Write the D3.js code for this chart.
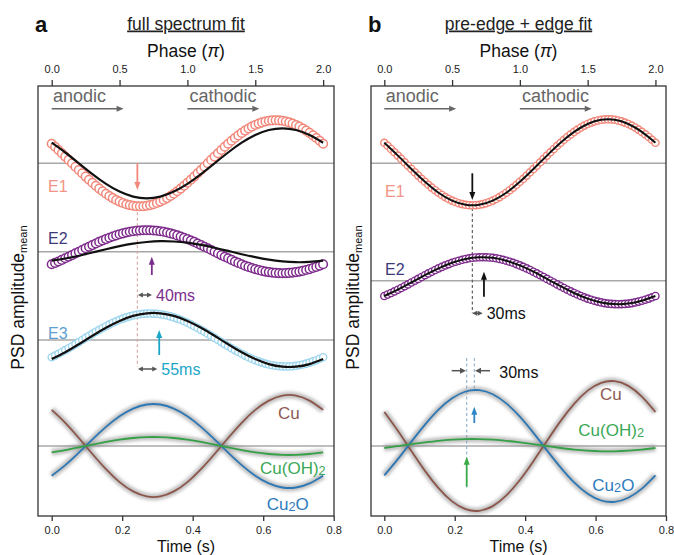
<!DOCTYPE html>
<html><head><meta charset="utf-8">
<script src="https://cdn.jsdelivr.net/npm/d3@7/dist/d3.min.js"></script>
<style>
body{margin:0;background:#fff;}
svg text{font-family:"Liberation Sans",Arial,Helvetica,sans-serif;}
</style></head>
<body>
<svg id="chart" width="674" height="555"></svg>
<script>
// ---------------- data ----------------
const phaseTickValues = [0, 0.5, 1.0, 1.5, 2.0];
const timeTickValues = [0, 0.2, 0.4, 0.6, 0.8];
const periodSeconds = 0.77;                       // 2π phase = one period
const phaseMeasured = d3.range(81).map(i => i * 0.025); // phase bins (π units)
const phaseModel = d3.range(21).map(i => i * 0.1);

// panel a (full spectrum fit) – measured PSD amplitudes (circles)
const e1DataA = [19.5,16.5,13.3,10.0,6.7,3.4,0,-3.4,-6.7,-10.0,-13.3,-16.5,-19.5,-22.5,-25.3,-27.9,-30.4,-32.7,-34.8,-36.7,-38.3,-39.7,-40.9,-41.8,-42.5,-42.9,-43.0,-42.9,-42.5,-41.8,-40.9,-39.7,-38.3,-36.7,-34.8,-32.7,-30.4,-27.9,-25.3,-22.5,-19.5,-16.5,-13.3,-10.0,-6.7,-3.4,0,3.4,6.7,10.0,13.3,16.5,19.5,22.5,25.3,27.9,30.4,32.7,34.8,36.7,38.3,39.7,40.9,41.8,42.5,42.9,43.0,42.9,42.5,41.8,40.9,39.7,38.3,36.7,34.8,32.7,30.4,27.9,25.3,22.5,19.5];
const e2DataA = [-12.6,-11.2,-9.8,-8.2,-6.6,-5.0,-3.4,-1.7,0,1.7,3.4,5.0,6.6,8.2,9.8,11.2,12.6,14.0,15.2,16.3,17.4,18.3,19.2,19.9,20.4,20.9,21.2,21.4,21.5,21.4,21.2,20.9,20.4,19.9,19.2,18.3,17.4,16.3,15.2,14.0,12.6,11.2,9.8,8.2,6.6,5.0,3.4,1.7,0,-1.7,-3.4,-5.0,-6.6,-8.2,-9.8,-11.2,-12.6,-14.0,-15.2,-16.3,-17.4,-18.3,-19.2,-19.9,-20.4,-20.9,-21.2,-21.4,-21.5,-21.4,-21.2,-20.9,-20.4,-19.9,-19.2,-18.3,-17.4,-16.3,-15.2,-14.0,-12.6];
const e3DataA = [-17.2,-15.6,-13.8,-12.0,-10.1,-8.2,-6.2,-4.1,-2.1,0,2.1,4.1,6.2,8.2,10.1,12.0,13.8,15.6,17.2,18.7,20.2,21.4,22.6,23.6,24.5,25.2,25.8,26.2,26.4,26.5,26.4,26.2,25.8,25.2,24.5,23.6,22.6,21.4,20.2,18.7,17.2,15.6,13.8,12.0,10.1,8.2,6.2,4.1,2.1,0,-2.1,-4.1,-6.2,-8.2,-10.1,-12.0,-13.8,-15.6,-17.2,-18.7,-20.2,-21.4,-22.6,-23.6,-24.5,-25.2,-25.8,-26.2,-26.4,-26.5,-26.4,-26.2,-25.8,-25.2,-24.5,-23.6,-22.6,-21.4,-20.2,-18.7,-17.2];
// panel a – fits (black lines)
const e1FitA = [20.6,10.8,0,-10.8,-20.6,-28.3,-33.3,-35.0,-33.3,-28.3,-20.6,-10.8,0,10.8,20.6,28.3,33.3,35.0,33.3,28.3,20.6];
const e2FitA = [-9.0,-6.8,-4.0,-0.8,2.5,5.5,8.0,9.7,10.5,10.2,9.0,6.8,4.0,0.8,-2.5,-5.5,-8.0,-9.7,-10.5,-10.2,-9.0];
const e3FitA = [-19.1,-12.3,-4.2,4.2,12.3,19.1,24.1,26.7,26.7,24.1,19.1,12.3,4.2,-4.2,-12.3,-19.1,-24.1,-26.7,-26.7,-24.1,-19.1];
// panel a – components
const cuA    = [36.1,23.2,8.0,-8.0,-23.2,-36.1,-45.4,-50.4,-50.4,-45.4,-36.1,-23.2,-8.0,8.0,23.2,36.1,45.4,50.4,50.4,45.4,36.1];
const cu2oA  = [-29.7,-19.1,-6.6,6.6,19.1,29.7,37.4,41.5,41.5,37.4,29.7,19.1,6.6,-6.6,-19.1,-29.7,-37.4,-41.5,-41.5,-37.4,-29.7];
const cuoh2A = [-6.4,-4.1,-1.4,1.4,4.1,6.4,8.0,8.9,8.9,8.0,6.4,4.1,1.4,-1.4,-4.1,-6.4,-8.0,-8.9,-8.9,-8.0,-6.4];

// panel b (pre-edge + edge fit)
const e1DataB = [20.5,17.5,14.3,11.0,7.7,4.4,1.0,-2.4,-5.7,-9.0,-12.3,-15.5,-18.5,-21.5,-24.3,-26.9,-29.4,-31.7,-33.8,-35.7,-37.3,-38.7,-39.9,-40.8,-41.5,-41.9,-42.0,-41.9,-41.5,-40.8,-39.9,-38.7,-37.3,-35.7,-33.8,-31.7,-29.4,-26.9,-24.3,-21.5,-18.5,-15.5,-12.3,-9.0,-5.7,-2.4,1.0,4.4,7.7,11.0,14.3,17.5,20.5,23.5,26.3,28.9,31.4,33.7,35.8,37.7,39.3,40.7,41.9,42.8,43.5,43.9,44.0,43.9,43.5,42.8,41.9,40.7,39.3,37.7,35.8,33.7,31.4,28.9,26.3,23.5,20.5];
const e2DataB = [-15.3,-13.8,-12.3,-10.7,-9.0,-7.3,-5.5,-3.7,-1.8,0,1.8,3.7,5.5,7.3,9.0,10.7,12.3,13.8,15.3,16.6,17.9,19.0,20.0,20.9,21.7,22.4,22.9,23.2,23.4,23.5,23.4,23.2,22.9,22.4,21.7,20.9,20.0,19.0,17.9,16.6,15.3,13.8,12.3,10.7,9.0,7.3,5.5,3.7,1.8,0,-1.8,-3.7,-5.5,-7.3,-9.0,-10.7,-12.3,-13.8,-15.3,-16.6,-17.9,-19.0,-20.0,-20.9,-21.7,-22.4,-22.9,-23.2,-23.4,-23.5,-23.4,-23.2,-22.9,-22.4,-21.7,-20.9,-20.0,-19.0,-17.9,-16.6,-15.3];
const e1FitB = [20.5,7.7,-5.7,-18.5,-29.4,-37.3,-41.5,-41.5,-37.3,-29.4,-18.5,-5.7,7.7,20.5,31.4,39.3,43.5,43.5,39.3,31.4,20.5];
const e2FitB = [-15.3,-9.0,-1.8,5.5,12.3,17.9,21.7,23.4,22.9,20.0,15.3,9.0,1.8,-5.5,-12.3,-17.9,-21.7,-23.4,-22.9,-20.0,-15.3];
const cuB    = [34.0,15.2,-5.1,-24.9,-42.2,-55.4,-63.2,-64.8,-60.1,-49.4,-34.0,-15.2,5.1,24.9,42.2,55.4,63.2,64.8,60.1,49.4,34.0];
const cu2oB  = [-29.3,-13.1,4.4,21.4,36.4,47.7,54.5,55.8,51.7,42.6,29.3,13.1,-4.4,-21.4,-36.4,-47.7,-54.5,-55.8,-51.7,-42.6,-29.3];
const cuoh2B = [-2.0,-0.2,1.8,3.6,5.2,6.3,6.9,6.9,6.3,5.2,3.6,1.8,-0.2,-2.0,-3.6,-4.7,-5.3,-5.3,-4.7,-3.6,-2.0];

// stacking baselines (a.u.)
const baselinesA = [352.7, 264.3, 176.0, 70.0];
const baselinesB = [352.7, 235.3, 70.0];
// phase-shift annotations (s)
const shiftsA = [0.04, 0.055];
const shiftsB = [0.03, 0.03];

// ---------------- drawing ----------------
const svg = d3.select('#chart');
const defs = svg.append('defs');
defs.append('filter').attr('id','blur').attr('x','-5%').attr('y','-30%').attr('width','110%').attr('height','160%')
  .append('feGaussianBlur').attr('stdDeviation', 1.5);

const C = {
  salmon:'#f2877a', e1lab:'#f29485', purple:'#7d2b8b', e2lab:'#3e3a7a',
  cyan:'#9dd6ee', e3lab:'#5d9fd3', teal:'#1aa6c8', purpleArrow:'#7b2e8c',
  cu:'#8c564b', cu2o:'#2c77b4', cuoh2:'#36a047',
  cuLab:'#8c5a52', cu2oLab:'#2f7bbd', cuoh2Lab:'#3aa856',
  base:'#a8a8a8', frame:'#333', gray:'#666', dark:'#555'
};

function arrow(g, x1, y1, x2, y2, color, sw, len, wid, both){
  const a = Math.atan2(y2-y1, x2-x1), ca = Math.cos(a), sa = Math.sin(a);
  const head = (tx, ty, dir) => {
    const bx = tx - dir*len*ca, by = ty - dir*len*sa;
    const px = -sa*wid/2, py = ca*wid/2;
    g.append('path').attr('d', `M${tx},${ty}L${bx+px},${by+py}L${bx-px},${by-py}Z`).attr('fill', color);
  };
  const sx = both ? x1 + len*0.6*ca : x1, sy = both ? y1 + len*0.6*sa : y1;
  g.append('line').attr('x1', sx).attr('y1', sy)
    .attr('x2', x2 - len*0.6*ca).attr('y2', y2 - len*0.6*sa)
    .attr('stroke', color).attr('stroke-width', sw);
  head(x2, y2, 1);
  if (both) head(x1, y1, -1);
}

function label(g, x, y, parts, size, color, anchor, baseline){
  const t = g.append('text').attr('x', x).attr('y', y).attr('font-size', size).attr('fill', color)
    .attr('text-anchor', anchor || 'start');
  if (baseline) t.attr('dominant-baseline', baseline);
  parts.forEach(p => {
    const s = t.append('tspan').text(p.t);
    if (p.sub) s.attr('font-size', size*0.75).attr('dy', p.dy);
    else if (p.dy) s.attr('dy', p.dy);
    if (p.it) s.attr('font-style', 'italic');
  });
  return t;
}

function drawPanel(cfg){
  const g = svg.append('g');
  const x = d3.scaleLinear().domain([0, 0.8]).range([cfg.x0, cfg.x8]);
  const xp = d3.scaleLinear().domain([0, 2]).range([x(0), x(periodSeconds)]);
  const y = d3.scaleLinear().domain([0, 430]).range([516, 86]);
  const line = (vals, base) => d3.line().x((v,i) => xp(phaseModel[i])).y(v => y(base + v)).curve(d3.curveNatural)(vals);

  // baselines
  g.selectAll('line.base').data(cfg.baselines).join('line').attr('class','base')
    .attr('x1', cfg.left).attr('x2', cfg.right).attr('y1', d => y(d)).attr('y2', d => y(d))
    .attr('stroke', C.base).attr('stroke-width', 1.6);

  // dashed guides
  cfg.dashes.forEach(d => g.append('line').attr('x1', x(d.t)).attr('x2', x(d.t)).attr('y1', y(d.v1)).attr('y2', y(d.v2))
    .attr('stroke', d.color).attr('stroke-width', 1.1).attr('stroke-dasharray', '3,2.5'));

  // components with soft grey halo
  cfg.components.forEach(c => g.append('path').attr('d', line(c.values, c.base)).attr('fill','none')
    .attr('stroke', '#8a8a8a').attr('stroke-width', 7).attr('stroke-opacity', 0.5).attr('filter','url(#blur)'));
  cfg.components.forEach(c => g.append('path').attr('d', line(c.values, c.base)).attr('fill','none')
    .attr('stroke', c.color).attr('stroke-width', 1.8));

  // measured traces + fits
  cfg.traces.forEach(tr => {
    g.append('g').selectAll('circle').data(tr.data).join('circle')
      .attr('cx', (v,i) => xp(phaseMeasured[i])).attr('cy', v => y(tr.base + v))
      .attr('r', tr.r).attr('fill', '#fff').attr('stroke', tr.color).attr('stroke-width', tr.sw);
    g.append('path').attr('d', line(tr.fit, tr.base)).attr('fill','none')
      .attr('stroke', '#111').attr('stroke-width', tr.fitW);
  });

  // vertical arrows
  cfg.arrows.forEach(a => arrow(g, x(a.t), y(a.from), x(a.t), y(a.to), a.color, 1.8, 8, 6, false));
  // shift double arrows
  cfg.shifts.forEach(s => {
    arrow(g, x(s.t0), y(s.v), x(s.t0 + s.dt), y(s.v), C.dark, 1.5, 5, 5, true);
    label(g, x(s.t0 + s.dt) + 4, y(s.v), [{t: Math.round(s.dt*1000) + 'ms'}], 16, s.color, 'start', 'central');
  });
  (cfg.inward || []).forEach(s => arrow(g, x(s.from), y(s.v), x(s.to), y(s.v), C.dark, 1.5, 6, 6, false));
  (cfg.extraText || []).forEach(s => label(g, x(s.t), y(s.v), [{t: s.text}], 16, s.color, 'start', 'central'));

  // anodic / cathodic
  [[0, 0.53, 'anodic', 0.01], [1.0, 1.53, 'cathodic', 1.015]].forEach(a => {
    arrow(g, xp(a[0]), y(407.3), xp(a[1]), y(407.3), C.gray, 1.6, 7, 6, false);
    label(g, xp(a[3]), y(413.7), [{t: a[2]}], 18, C.gray, 'start');
  });

  // E labels
  cfg.eLabels.forEach(l => label(g, x(l.t), y(l.v), [{t: l.text}], 16, l.color, 'start', 'central'));
  // component labels
  cfg.compLabels.forEach(l => label(g, x(l.t), y(l.v), l.parts, 17, l.color, 'start', 'central'));

  // frame
  g.append('rect').attr('x', cfg.left).attr('y', 86).attr('width', cfg.right - cfg.left).attr('height', 430)
    .attr('fill','none').attr('stroke', C.frame).attr('stroke-width', 1.3);

  // axes
  const top = g.append('g').attr('transform','translate(0,86)')
    .call(d3.axisTop(xp).tickValues(phaseTickValues).tickFormat(d3.format('.1f')).tickSize(6).tickPadding(7));
  const bot = g.append('g').attr('transform','translate(0,516)')
    .call(d3.axisBottom(x).tickValues(timeTickValues).tickFormat(d3.format('.1f')).tickSize(5).tickPadding(5));
  [top, bot].forEach(ax => {
    ax.select('.domain').remove();
    ax.selectAll('line').attr('stroke', C.frame).attr('stroke-width', 1.3);
    ax.selectAll('text').attr('font-family','"DejaVu Sans", sans-serif').attr('font-size', 11).attr('fill','#222');
  });

  const cx = (cfg.left + cfg.right) / 2;
  label(g, cx, 56.5, [{t:'Phase ('}, {t:'π', it:true}, {t:')'}], 17.5, '#111', 'middle');
  label(g, cx, 551.5, [{t:'Time (s)'}], 16, '#111', 'middle');
  label(g, cx, 29.5, [{t: cfg.title}], 17.5, '#222', 'middle').style('text-decoration','underline');
  g.append('text').attr('x', cfg.letterX).attr('y', 32).attr('font-size', 22).attr('font-weight','bold')
    .attr('fill','#111').text(cfg.letter);

  // y label
  const yl = g.append('text').attr('transform', `translate(${cfg.yLabX},297.5) rotate(-90)`)
    .attr('text-anchor','middle').attr('font-size', 17.5).attr('fill','#111');
  yl.append('tspan').text('PSD amplitude');
  yl.append('tspan').text('mean').attr('font-size', 11).attr('dy', 3);
}

drawPanel({
  letter:'a', letterX:35, title:'full spectrum fit', left:38, right:334, x0:51.7, x8:333.7, yLabX:23.5,
  baselines: baselinesA,
  traces:[
    {data:e1DataA, fit:e1FitA, base:baselinesA[0], color:C.salmon, r:4.3, sw:1.5, fitW:2.2},
    {data:e2DataA, fit:e2FitA, base:baselinesA[1], color:C.purple, r:4.3, sw:1.5, fitW:2.2},
    {data:e3DataA, fit:e3FitA, base:baselinesA[2], color:C.cyan, r:3.6, sw:1.4, fitW:2.2}
  ],
  components:[
    {values:cuA, base:baselinesA[3], color:C.cu},
    {values:cu2oA, base:baselinesA[3], color:C.cu2o},
    {values:cuoh2A, base:baselinesA[3], color:C.cuoh2}
  ],
  dashes:[{t:0.243, v1:309.3, v2:149.3, color:'#d9a5a5'}],
  arrows:[
    {t:0.243, from:352.7, to:326, color:C.salmon},
    {t:0.284, from:241, to:259.3, color:C.purpleArrow},
    {t:0.305, from:161, to:186, color:C.teal}
  ],
  shifts:[
    {t0:0.2445, dt:shiftsA[0], v:221, color:C.purpleArrow},
    {t0:0.2445, dt:shiftsA[1], v:147, color:C.teal}
  ],
  eLabels:[
    {t:-0.0105, v:330, text:'E1', color:C.e1lab},
    {t:-0.0105, v:278.5, text:'E2', color:C.e2lab},
    {t:-0.0105, v:183.5, text:'E3', color:C.e3lab}
  ],
  compLabels:[
    {t:0.642, v:103, parts:[{t:'Cu'}], color:C.cuLab},
    {t:0.591, v:48.4, parts:[{t:'Cu(OH)'},{t:'2', sub:true, dy:2}], color:C.cuoh2Lab},
    {t:0.61, v:12, parts:[{t:'Cu'},{t:'2', sub:true, dy:2},{t:'O', dy:-2}], color:C.cu2oLab}
  ]
});

drawPanel({
  letter:'b', letterX:368, title:'pre-edge + edge fit', left:371, right:666, x0:384.3, x8:666, yLabX:358.5,
  baselines: baselinesB,
  traces:[
    {data:e1DataB, fit:e1FitB, base:baselinesB[0], color:C.salmon, r:3.6, sw:1.4, fitW:2.0},
    {data:e2DataB, fit:e2FitB, base:baselinesB[1], color:C.purple, r:3.6, sw:1.4, fitW:2.0}
  ],
  components:[
    {values:cuB, base:baselinesB[2], color:C.cu},
    {values:cu2oB, base:baselinesB[2], color:C.cu2o},
    {values:cuoh2B, base:baselinesB[2], color:C.cuoh2}
  ],
  dashes:[
    {t:0.25, v1:308, v2:203, color:'#555'},
    {t:0.234, v1:158, v2:28, color:'#8fb0cc'},
    {t:0.2556, v1:158, v2:126, color:'#8fb0cc'}
  ],
  arrows:[
    {t:0.25, from:342.7, to:316, color:'#111'},
    {t:0.283, from:219.3, to:244.3, color:'#111'},
    {t:0.2556, from:93, to:109.3, color:'#2f86c6'},
    {t:0.234, from:29.3, to:59.3, color:'#3bab48'}
  ],
  shifts:[{t0:0.2495, dt:shiftsB[0], v:202.7, color:'#111'}],
  inward:[{from:0.1914, to:0.232, v:145.3}, {from:0.3002, to:0.2576, v:145.3}],
  extraText:[{t:0.3266, v:144.3, text: Math.round(shiftsB[1]*1000) + 'ms', color:'#111'}],
  eLabels:[
    {t:0.002, v:325.2, text:'E1', color:C.e1lab},
    {t:0.002, v:247, text:'E2', color:C.e2lab}
  ],
  compLabels:[
    {t:0.6127, v:122, parts:[{t:'Cu'}], color:C.cuLab},
    {t:0.551, v:86, parts:[{t:'Cu(OH)'},{t:'2', sub:true, dy:2}], color:C.cuoh2Lab},
    {t:0.5907, v:31.5, parts:[{t:'Cu'},{t:'2', sub:true, dy:2},{t:'O', dy:-2}], color:C.cu2oLab}
  ]
});
</script>
</body></html>
